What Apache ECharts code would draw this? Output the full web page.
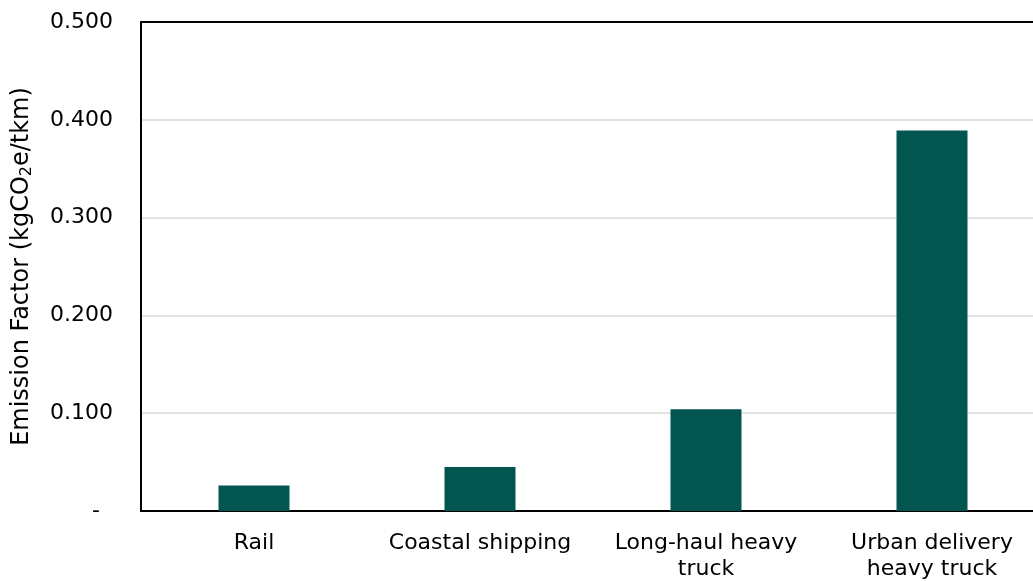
<!DOCTYPE html>
<html>
<head>
<meta charset="utf-8">
<script src="https://cdn.jsdelivr.net/npm/echarts@6/dist/echarts.min.js"></script>
<style>
  html, body { margin: 0; padding: 0; background: #ffffff; }
  #chart { width: 1033px; height: 581px; }
</style>
</head>
<body>
<div id="chart"></div>
<script>
// Freight modes and their emission factors (kgCO2e per tonne-km)
const categories = ['Rail', 'Coastal shipping', 'Long-haul heavy\ntruck', 'Urban delivery\nheavy truck'];
const emissionFactors = [0.026, 0.045, 0.104, 0.389];
const yTicks = [0, 0.1, 0.2, 0.3, 0.4, 0.5];

const FONT = '"DejaVu Sans", "Noto Sans", sans-serif';
const BAR = '#035650';
const LINE = { color: '#000000', width: 2 };

const chart = echarts.init(document.getElementById('chart'), null, { renderer: 'canvas' });

chart.setOption({
  backgroundColor: '#ffffff',
  animation: false,
  grid: {
    left: 141,
    top: 22,
    width: 904,
    height: 489,
    outerBoundsMode: 'none',
    containLabel: false
  },
  xAxis: [{
    type: 'category',
    data: categories,
    axisLine: { show: true, lineStyle: LINE },
    axisTick: { show: false },
    axisLabel: {
      interval: 0,
      hideOverlap: false,
      color: '#000000',
      fontFamily: FONT,
      fontSize: 22,
      lineHeight: 26,
      margin: 19
    }
  }, {
    // frame line along the top of the plot
    type: 'category',
    position: 'top',
    data: categories,
    axisLine: { show: true, lineStyle: LINE },
    axisTick: { show: false },
    axisLabel: { show: false }
  }],
  yAxis: {
    type: 'value',
    min: yTicks[0],
    max: yTicks[yTicks.length - 1],
    interval: 0.1,
    name: '{a|Emission Factor (kgCO}{s|2}{a|e/tkm)}',
    nameLocation: 'middle',
    nameGap: 106,
    nameRotate: 90,
    nameTextStyle: {
      rich: {
        a: { fontFamily: FONT, fontSize: 24, color: '#000000' },
        s: { fontFamily: FONT, fontSize: 16, color: '#000000', padding: [11, 0, 0, 0] }
      }
    },
    axisLine: { show: true, lineStyle: LINE },
    axisTick: { show: false },
    splitLine: { show: true, lineStyle: { color: '#d9d9d9', width: 1.5 } },
    axisLabel: {
      color: '#000000',
      fontFamily: FONT,
      fontSize: 22,
      margin: 28,
      formatter: function (v) {
        return v === 0 ? '{d|-}' : v.toFixed(3);
      },
      rich: {
        d: { fontFamily: FONT, fontSize: 22, color: '#000000', padding: [0, 13, 0, 0] }
      }
    }
  },
  series: [{
    type: 'bar',
    data: emissionFactors,
    barWidth: 71,
    itemStyle: { color: BAR },
    label: { show: false }
  }]
});
</script>
</body>
</html>
